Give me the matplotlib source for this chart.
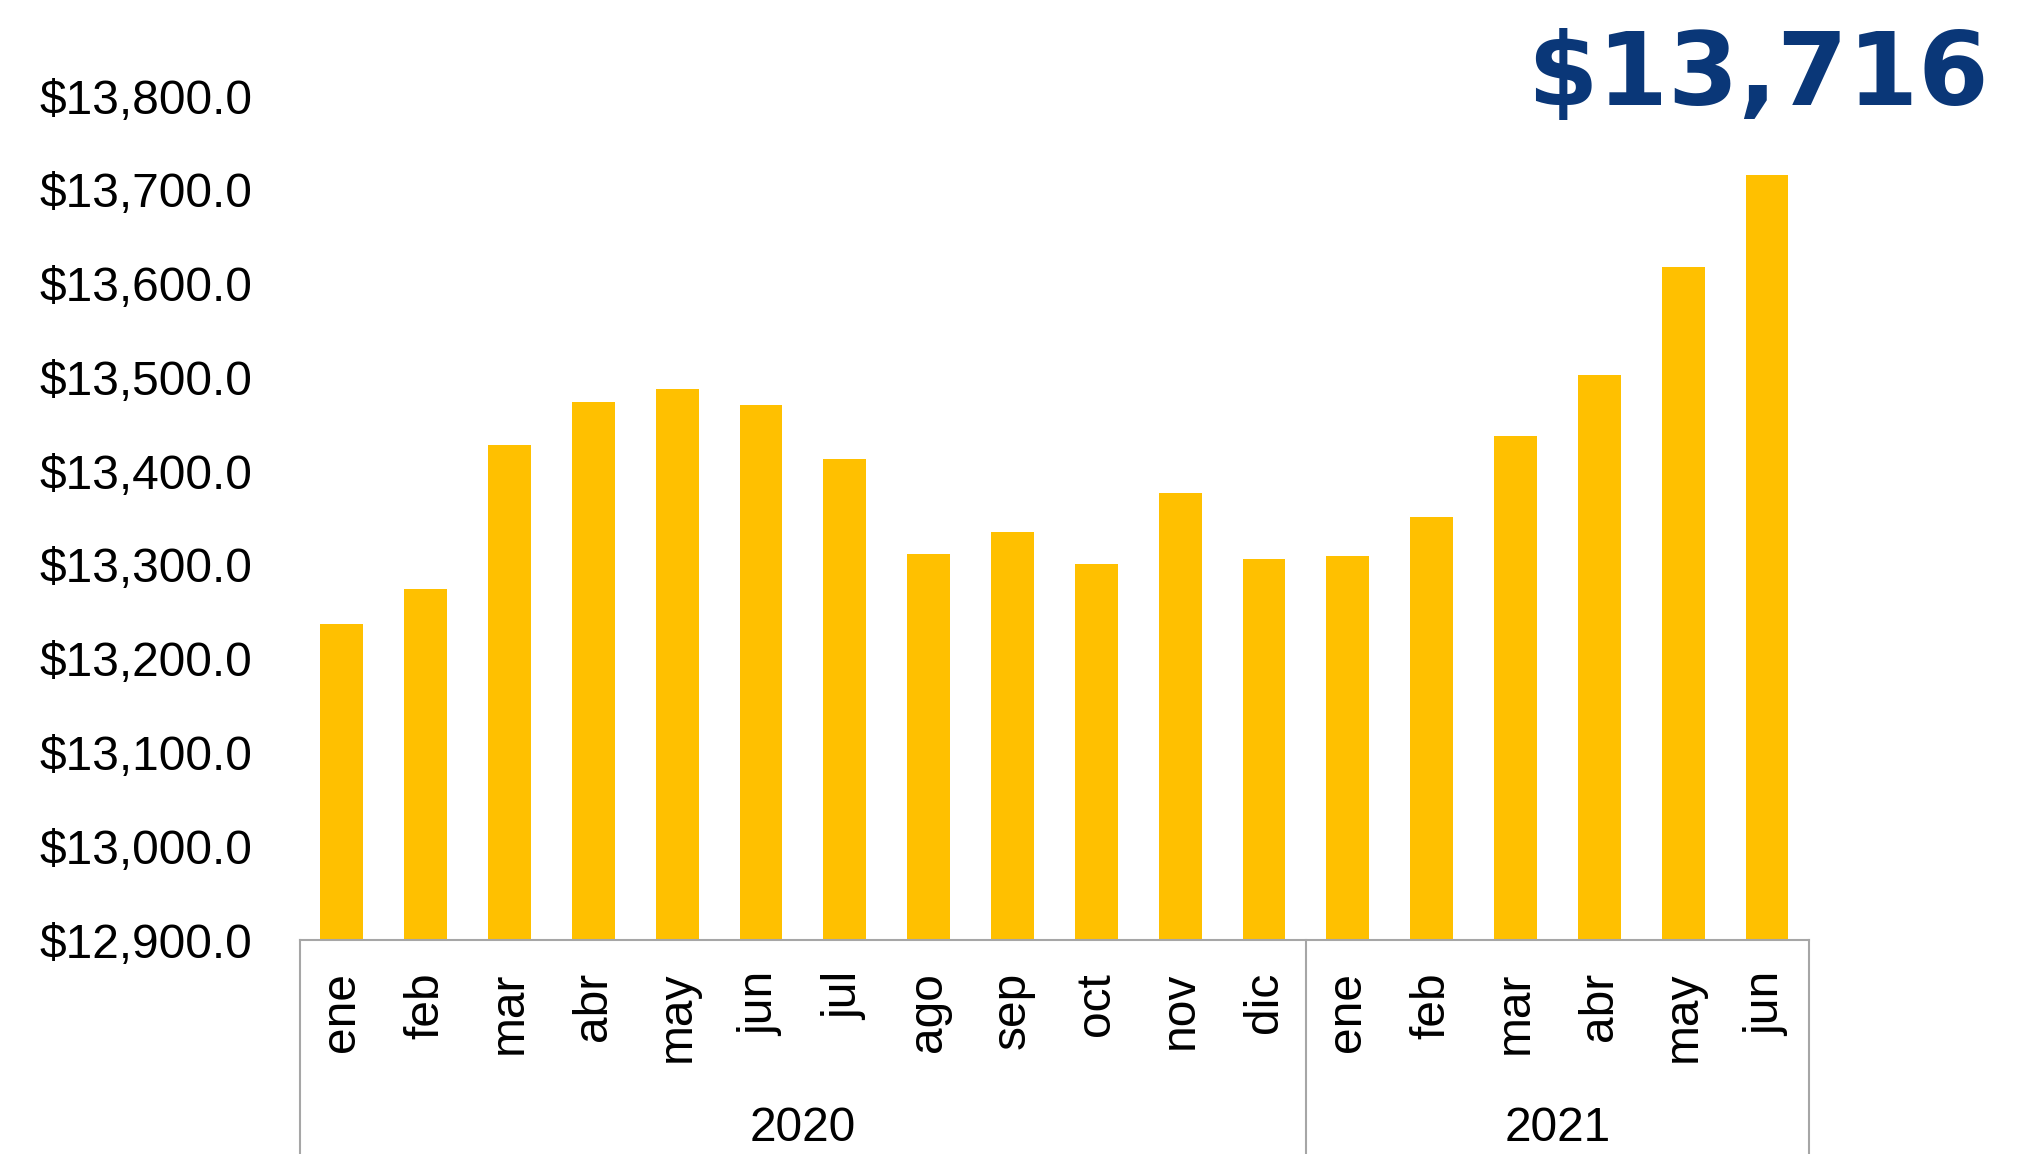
import matplotlib.pyplot as plt

months = ['ene', 'feb', 'mar', 'abr', 'may', 'jun', 'jul', 'ago', 'sep', 'oct', 'nov', 'dic',
          'ene', 'feb', 'mar', 'abr', 'may', 'jun']
values = [13237, 13274, 13428, 13474, 13488, 13470, 13413, 13312, 13335, 13301, 13377, 13306,
          13309, 13351, 13437, 13502, 13618, 13716]
years = ['2020', '2021']
year_counts = [12, 6]
y_ticks = list(range(12900, 13801, 100))
headline = '$13,716'

plt.rcParams['font.family'] = ['Liberation Sans', 'DejaVu Sans']

gold = '#FFC000'
grey = '#A6A6A6'
navy = '#0A3778'

fig = plt.figure(figsize=(20.36, 11.54), dpi=100)
ax = fig.add_axes([0.1473, 0.1854, 0.7412, 0.7314])

x = list(range(len(values)))
ax.bar(x, values, width=0.51, color=gold)

ax.set_xlim(-0.5, len(values) - 0.5)
ax.set_ylim(y_ticks[0], y_ticks[-1])
ax.set_yticks(y_ticks)
ax.set_yticklabels(['${:,.1f}'.format(v) for v in y_ticks])
ax.set_xticks(x)
ax.set_xticklabels(months, rotation=90)
ax.tick_params(axis='y', length=0, pad=34, labelsize=34.5)
ax.tick_params(axis='x', length=0, pad=23, labelsize=34.5)

for s in ['left', 'right', 'top']:
    ax.spines[s].set_visible(False)
ax.spines['bottom'].set_color(grey)
ax.spines['bottom'].set_linewidth(1.5)

# year groups below the month labels
trans = ax.get_xaxis_transform()
start = -0.5
ax.plot([start, start], [0, -0.26], color=grey, lw=1.5, transform=trans, clip_on=False)
for yr, n in zip(years, year_counts):
    end = start + n
    ax.plot([end, end], [0, -0.26], color=grey, lw=1.5, transform=trans, clip_on=False)
    ax.text((start + end) / 2, -0.2385, yr, transform=trans, ha='center', va='baseline',
            fontsize=34.5, clip_on=False)
    start = end

fig.text(0.977, 0.976, headline, ha='right', va='top', color=navy,
         fontsize=73, fontweight='bold', family='DejaVu Sans')

fig.savefig('out.png', dpi=100)
